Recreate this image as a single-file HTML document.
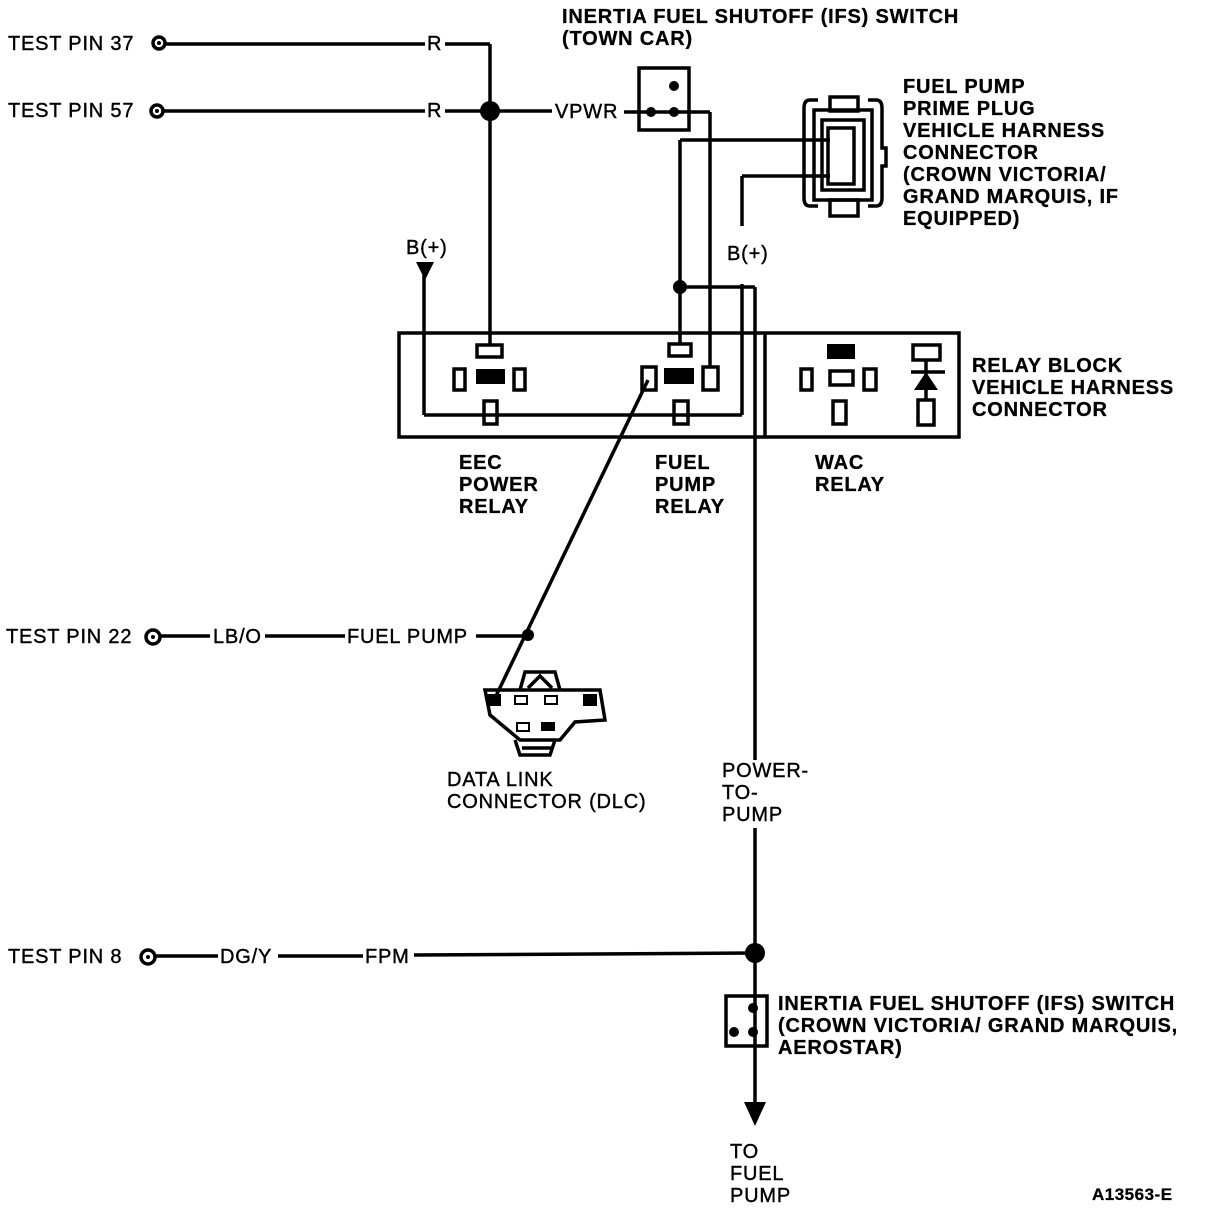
<!DOCTYPE html>
<html><head><meta charset="utf-8"><style>
html,body{margin:0;padding:0;background:#fff}
svg{display:block}
text{font-family:"Liberation Sans",sans-serif;font-size:20px;fill:#000;letter-spacing:0.8px;stroke:#000;stroke-width:0.4px}
.b{font-weight:bold;stroke-width:0.3px}
</style></head><body>
<svg width="1216" height="1210" viewBox="0 0 1216 1210" xmlns="http://www.w3.org/2000/svg">
<g stroke="#000" stroke-width="3.5" fill="none">
<circle cx="159" cy="43" r="6"/>
<line x1="165" y1="44" x2="425" y2="44"/><line x1="445" y1="44" x2="490" y2="44"/>
<line x1="490" y1="44" x2="490" y2="345"/>
<circle cx="157" cy="111" r="6"/>
<line x1="163" y1="111" x2="425" y2="111"/><line x1="445" y1="111" x2="552" y2="111"/>
<line x1="624" y1="112" x2="710" y2="112"/>
<line x1="710" y1="112" x2="710" y2="366"/>
<rect x="639" y="68" width="50" height="62"/>
<line x1="680" y1="140" x2="830" y2="140"/>
<line x1="680" y1="140" x2="680" y2="343"/>
<line x1="742" y1="176" x2="830" y2="176"/>
<line x1="742" y1="176" x2="742" y2="226"/>
<line x1="742" y1="284" x2="742" y2="415"/>
<line x1="680" y1="287" x2="755" y2="287"/>
<line x1="755" y1="287" x2="755" y2="760"/>
<line x1="755" y1="828" x2="755" y2="1102"/>
<line x1="424" y1="275" x2="424" y2="415"/>
<line x1="424" y1="415" x2="742" y2="415"/>
<rect x="399" y="333" width="560" height="104"/>
<line x1="765" y1="333" x2="765" y2="437"/>
<rect x="477" y="345" width="25" height="12"/>
<rect x="454" y="369" width="11" height="21"/>
<rect x="514" y="369" width="11" height="21"/>
<rect x="484" y="401" width="13" height="23"/>
<rect x="669" y="344" width="22" height="12"/>
<rect x="642" y="367" width="14" height="23"/>
<rect x="703" y="367" width="15" height="23"/>
<rect x="674" y="401" width="14" height="23"/>
<rect x="801" y="369" width="11" height="21"/>
<rect x="830" y="371" width="23" height="14"/>
<rect x="864" y="369" width="12" height="21"/>
<rect x="833" y="401" width="13" height="23"/>
<rect x="913" y="345" width="27" height="15"/>
<line x1="926" y1="360" x2="926" y2="400"/>
<line x1="911" y1="372" x2="945" y2="372"/>
<rect x="918" y="400" width="16" height="25"/>
<line x1="648" y1="380" x2="495" y2="698"/>
<circle cx="153" cy="637" r="7"/>
<line x1="160" y1="636" x2="210" y2="636"/><line x1="265" y1="636" x2="345" y2="636"/><line x1="476" y1="636" x2="528" y2="636"/>
<circle cx="148" cy="957" r="7"/>
<line x1="155" y1="956" x2="218" y2="956"/><line x1="278" y1="956" x2="363" y2="956"/><line x1="414" y1="955" x2="755" y2="953"/>
<rect x="726" y="996" width="41" height="50"/>
<rect x="830" y="97" width="28" height="14"/>
<rect x="830" y="200" width="28" height="16"/>
<path d="M818 100 h-8 q-6 0 -6 8 v90 q0 8 6 8 h8"/>
<path d="M868 100 h8 q6 0 6 8 v40 h4 v18 h-4 v32 q0 8 -6 8 h-8"/>
<rect x="814" y="110" width="58" height="90"/>
<rect x="822" y="120" width="42" height="70"/>
<rect x="828" y="128" width="26" height="56"/>
<path d="M485 690 L600 690 L605 720 L575 722 L560 740 L520 740 L490 715 Z"/>
<path d="M520 690 L525 672 L555 672 L560 690"/>
<path d="M528 688 L540 676 L552 688"/>
<path d="M515 740 L520 755 L550 755 L555 740"/>
<line x1="522" y1="748" x2="552" y2="748"/>
</g>
<g fill="#000">
<circle cx="490" cy="111" r="10"/>
<circle cx="674" cy="86" r="5"/><circle cx="651" cy="112" r="5"/><circle cx="674" cy="112" r="5"/>
<circle cx="680" cy="287" r="7"/>
<circle cx="528" cy="635" r="6"/>
<circle cx="755" cy="953" r="10"/>
<circle cx="753" cy="1008" r="5"/><circle cx="734" cy="1032" r="5"/><circle cx="753" cy="1032" r="5"/>
<circle cx="159" cy="43" r="2"/><circle cx="157" cy="111" r="2"/><circle cx="153" cy="637" r="2"/><circle cx="148" cy="957" r="2"/>
<rect x="476" y="369" width="29" height="15"/>
<rect x="664" y="368" width="30" height="16"/>
<rect x="827" y="344" width="28" height="15"/>
<polygon points="914,390 938,390 926,372"/>
<polygon points="416,262 434,262 425,280"/>
<polygon points="744,1102 766,1102 755,1126"/>
<rect x="487" y="694" width="14" height="12"/><rect x="583" y="694" width="14" height="12"/>
<rect x="541" y="722" width="14" height="9"/>
</g>
<g stroke="#000" stroke-width="2" fill="none">
<rect x="515" y="696" width="12" height="8"/><rect x="545" y="696" width="12" height="8"/><rect x="517" y="723" width="12" height="8"/>
</g>
<text x="8" y="50">TEST PIN 37</text>
<text x="8" y="117">TEST PIN 57</text>
<text x="6" y="643">TEST PIN 22</text>
<text x="8" y="963">TEST PIN 8</text>
<text x="427" y="50">R</text>
<text x="427" y="117">R</text>
<text x="555" y="118">VPWR</text>
<text x="213" y="643">LB/O</text>
<text x="347" y="643">FUEL PUMP</text>
<text x="220" y="963">DG/Y</text>
<text x="365" y="963">FPM</text>
<text x="406" y="254">B(+)</text>
<text x="727" y="260">B(+)</text>
<text class="b" x="562" y="23">INERTIA FUEL SHUTOFF (IFS) SWITCH</text>
<text class="b" x="562" y="45">(TOWN CAR)</text>
<text class="b" x="903" y="93">FUEL PUMP</text>
<text class="b" x="903" y="115">PRIME PLUG</text>
<text class="b" x="903" y="137">VEHICLE HARNESS</text>
<text class="b" x="903" y="159">CONNECTOR</text>
<text class="b" x="903" y="181">(CROWN VICTORIA/</text>
<text class="b" x="903" y="203">GRAND MARQUIS, IF</text>
<text class="b" x="903" y="225">EQUIPPED)</text>
<text class="b" x="972" y="372">RELAY BLOCK</text>
<text class="b" x="972" y="394">VEHICLE HARNESS</text>
<text class="b" x="972" y="416">CONNECTOR</text>
<text class="b" x="459" y="469">EEC</text>
<text class="b" x="459" y="491">POWER</text>
<text class="b" x="459" y="513">RELAY</text>
<text class="b" x="655" y="469">FUEL</text>
<text class="b" x="655" y="491">PUMP</text>
<text class="b" x="655" y="513">RELAY</text>
<text class="b" x="815" y="469">WAC</text>
<text class="b" x="815" y="491">RELAY</text>
<text x="447" y="786">DATA LINK</text>
<text x="447" y="808">CONNECTOR (DLC)</text>
<text x="722" y="777">POWER-</text>
<text x="722" y="799">TO-</text>
<text x="722" y="821">PUMP</text>
<text class="b" x="778" y="1010">INERTIA FUEL SHUTOFF (IFS) SWITCH</text>
<text class="b" x="778" y="1032">(CROWN VICTORIA/ GRAND MARQUIS,</text>
<text class="b" x="778" y="1054">AEROSTAR)</text>
<text x="730" y="1158">TO</text>
<text x="730" y="1180">FUEL</text>
<text x="730" y="1202">PUMP</text>
<text class="b" x="1092" y="1200" style="font-size:17px;letter-spacing:0.5px">A13563-E</text>
</svg>
</body></html>
